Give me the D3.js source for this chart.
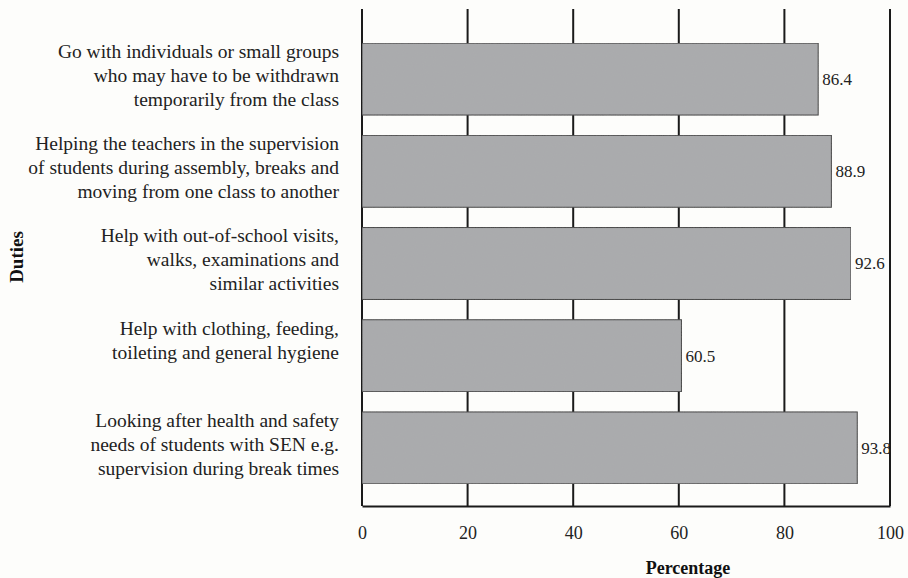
<!DOCTYPE html>
<html>
<head>
<meta charset="utf-8">
<script src="https://cdn.jsdelivr.net/npm/d3@7"></script>
<style>
  html, body { margin: 0; padding: 0; background: #fdfdfb; }
  svg { display: block; }
</style>
</head>
<body>
<div id="chart"></div>
<script>
// Duties (one entry per line of the wrapped label)
const duties = [
  ["Go with individuals or small groups", "who may have to be withdrawn", "temporarily from the class"],
  ["Helping the teachers in the supervision", "of students during assembly, breaks and", "moving from one class to another"],
  ["Help with out-of-school visits,", "walks, examinations and", "similar activities"],
  ["Help with clothing, feeding,", "toileting and general hygiene", ""],
  ["Looking after health and safety", "needs of students with SEN e.g.", "supervision during break times"]
]
const percentages = [86.4, 88.9, 92.6, 60.5, 93.8]
const xTicks = [0, 20, 40, 60, 80, 100]

const W = 908, H = 578
const M = { left: 362, right: 18, top: 9, bottom: 72 }
const FONT = "'Liberation Serif', 'Times New Roman', serif"

const svg = d3.select("#chart").append("svg")
  .attr("width", W).attr("height", H)

// faint paper grain for the bars
const defs = svg.append("defs")
const grain = defs.append("filter").attr("id", "grain")
  .attr("x", 0).attr("y", 0).attr("width", 1).attr("height", 1)
grain.append("feTurbulence")
  .attr("type", "fractalNoise").attr("baseFrequency", 0.9)
  .attr("numOctaves", 2).attr("seed", 3).attr("result", "noise")
grain.append("feColorMatrix")
  .attr("in", "noise").attr("type", "matrix")
  .attr("values", "0 0 0 0 0.5  0 0 0 0 0.5  0 0 0 0 0.5  0 0 0 0.12 0")
  .attr("result", "tint")
grain.append("feComposite").attr("in", "tint").attr("in2", "SourceGraphic")
  .attr("operator", "atop")

const x = d3.scaleLinear()
  .domain([0, 100])
  .range([M.left, W - M.right])

const y = d3.scaleBand()
  .domain(d3.range(duties.length))
  .range([33, 494])
  .paddingInner(0.22)
  .paddingOuter(0.11)

const axisY = H - M.bottom

// Vertical gridlines (drawn behind bars)
svg.append("g")
  .selectAll("line")
  .data(xTicks)
  .join("line")
  .attr("x1", d => x(d)).attr("x2", d => x(d))
  .attr("y1", M.top).attr("y2", axisY)
  .attr("stroke", "#1a1a1a")
  .attr("stroke-width", 2)

// Bars
svg.append("g")
  .selectAll("rect")
  .data(percentages)
  .join("rect")
  .attr("x", x(0))
  .attr("y", (d, i) => y(i))
  .attr("width", d => x(d) - x(0))
  .attr("height", y.bandwidth())
  .attr("fill", "#a9aaac")
  .attr("stroke", "#3a3a3a")
  .attr("stroke-width", 1)
  .attr("filter", "url(#grain)")

// Value labels
svg.append("g")
  .selectAll("text")
  .data(percentages)
  .join("text")
  .attr("x", d => x(d) + 4)
  .attr("y", (d, i) => y(i) + y.bandwidth() / 2)
  .attr("dy", "0.35em")
  .attr("font-family", FONT)
  .attr("font-size", "17px")
  .attr("fill", "#222")
  .text(d => d.toFixed(1))

// Bottom axis
const xAxis = svg.append("g")
  .attr("transform", `translate(0,${axisY})`)
  .call(d3.axisBottom(x).tickValues(xTicks).tickSize(0).tickPadding(20))
xAxis.select(".domain").attr("stroke", "#1a1a1a").attr("stroke-width", 2)
xAxis.selectAll("text")
  .attr("font-family", FONT)
  .attr("font-size", "18px")
  .attr("fill", "#222")

// Category labels
const lineH = 24
svg.append("g")
  .selectAll("text")
  .data(duties)
  .join("text")
  .attr("text-anchor", "end")
  .attr("font-family", FONT)
  .attr("font-size", "19.5px")
  .attr("fill", "#222")
  .each(function(lines, i) {
    const cy = y(i) + y.bandwidth() / 2 - 4
    const t = d3.select(this)
    lines.forEach((ln, k) => {
      t.append("tspan")
        .attr("x", 339)
        .attr("y", cy + (k - (lines.length - 1) / 2) * lineH)
        .attr("dy", "0.35em")
        .text(ln)
    })
  })

// Axis titles
svg.append("text")
  .attr("x", 688).attr("y", 568)
  .attr("dy", "0.35em")
  .attr("text-anchor", "middle")
  .attr("font-family", FONT)
  .attr("font-size", "18px")
  .attr("font-weight", "bold")
  .attr("fill", "#111")
  .text("Percentage")

svg.append("text")
  .attr("transform", "translate(16,257) rotate(-90)")
  .attr("dy", "0.35em")
  .attr("text-anchor", "middle")
  .attr("font-family", FONT)
  .attr("font-size", "19px")
  .attr("font-weight", "bold")
  .attr("fill", "#111")
  .text("Duties")
</script>
</body>
</html>
